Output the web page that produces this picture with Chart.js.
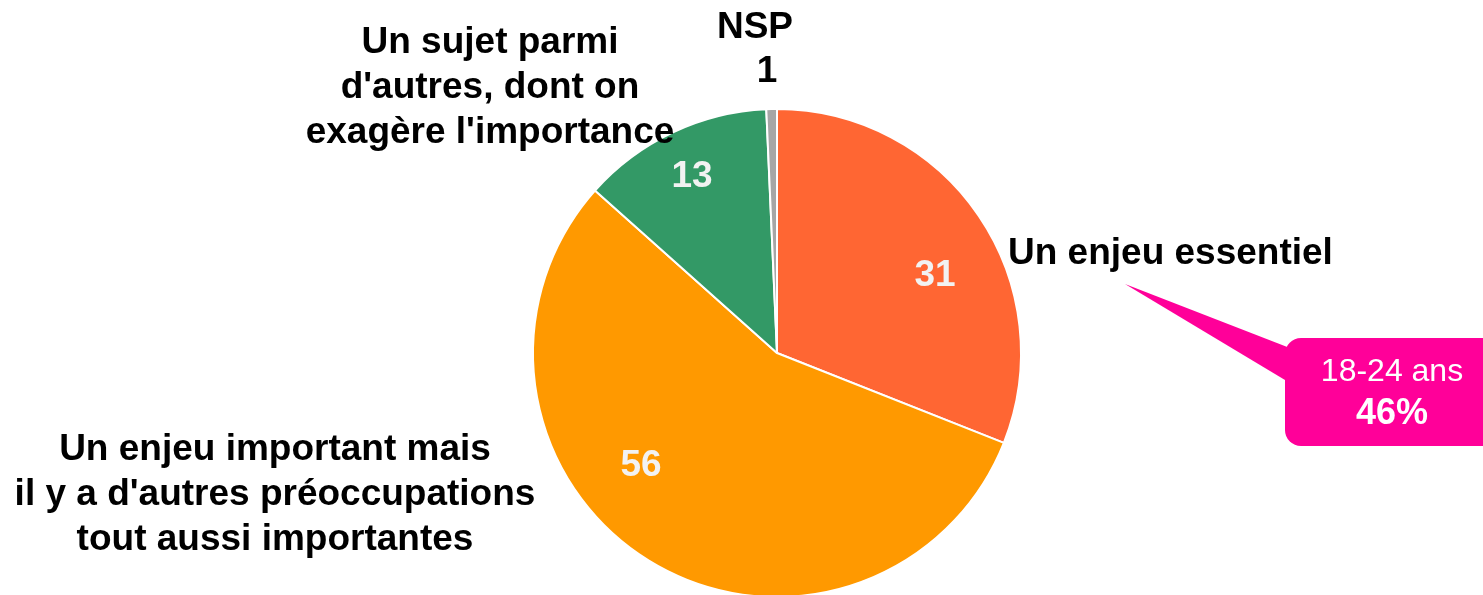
<!DOCTYPE html>
<html>
<head>
<meta charset="utf-8">
<script src="https://cdn.jsdelivr.net/npm/chart.js@4.4.0/dist/chart.umd.min.js"></script>
<style>
  html, body { margin: 0; padding: 0; background: #fff; overflow: hidden; }
  #wrap { width: 1483px; height: 700px; }
</style>
</head>
<body>
<div id="wrap"><canvas id="pieChart" width="1483" height="700"></canvas></div>
<script>
// 데이터
const categories = [
  'Un enjeu essentiel',
  "Un enjeu important mais il y a d'autres préoccupations tout aussi importantes",
  "Un sujet parmi d'autres, dont on exagère l'importance",
  'NSP'
];
// 조각 크기는 그림에서 읽은 값 (표시는 반올림)
const values = [31.0, 55.6, 12.7, 0.7];
const sliceColors = ['#FF6633', '#FF9900', '#339966', '#A6A6A6'];

// 바깥 라벨 (줄 단위)
const outerLabels = [
  ['Un enjeu essentiel'],
  ['Un enjeu important mais', "il y a d'autres préoccupations", 'tout aussi importantes'],
  ['Un sujet parmi', "d'autres, dont on", "exagère l'importance"],
  ['NSP']
];
const calloutLines = ['18-24 ans', '46%'];

const FONT = '"Liberation Sans", Arial, sans-serif';

// 라벨 배치 (픽셀)
const innerLabelPos = [[935, 276], [641, 466], [692, 177], [767, 72]];
const outerLabelPos = [
  { x: 1008, y: 254, align: 'left' },
  { x: 275, y: 450, align: 'center' },
  { x: 490, y: 43, align: 'center' },
  { x: 755, y: 28, align: 'center' }
];

const labelPlugin = {
  id: 'pieLabels',
  afterDraw(chart) {
    const ctx = chart.ctx;
    ctx.save();
    ctx.textBaseline = 'middle';

    // 조각 안 숫자
    values.forEach((v, i) => {
      const [x, y] = innerLabelPos[i];
      ctx.font = 'bold 37px ' + FONT;
      ctx.textAlign = 'center';
      ctx.fillStyle = i === 3 ? '#000000' : '#F2F2F2';
      ctx.fillText(String(Math.round(v)), x, y);
    });

    // 바깥 라벨
    ctx.fillStyle = '#000000';
    ctx.font = 'bold 37px ' + FONT;
    outerLabels.forEach((lines, i) => {
      const p = outerLabelPos[i];
      ctx.textAlign = p.align;
      lines.forEach((t, k) => ctx.fillText(t, p.x, p.y + k * 45));
    });

    // 말풍선
    ctx.fillStyle = '#FF0099';
    ctx.beginPath();
    ctx.moveTo(1125, 284);
    ctx.lineTo(1295, 350);
    ctx.lineTo(1295, 386);
    ctx.closePath();
    ctx.fill();
    ctx.beginPath();
    ctx.roundRect(1285, 338, 215, 108, 16);
    ctx.fill();
    ctx.fillStyle = '#FFFFFF';
    ctx.textAlign = 'center';
    ctx.font = '32px ' + FONT;
    ctx.fillText(calloutLines[0], 1392, 372);
    ctx.font = 'bold 36px ' + FONT;
    ctx.fillText(calloutLines[1], 1392, 414);
    ctx.restore();
  }
};

new Chart(document.getElementById('pieChart'), {
  type: 'pie',
  data: {
    labels: categories,
    datasets: [{
      data: values,
      backgroundColor: sliceColors,
      borderColor: '#FFFFFF',
      borderWidth: 2
    }]
  },
  options: {
    responsive: false,
    animation: false,
    layout: {
      padding: { left: 532, right: 461, top: 108, bottom: 102 }
    },
    plugins: {
      legend: { display: false },
      tooltip: { enabled: false }
    }
  },
  plugins: [labelPlugin]
});
</script>
</body>
</html>
